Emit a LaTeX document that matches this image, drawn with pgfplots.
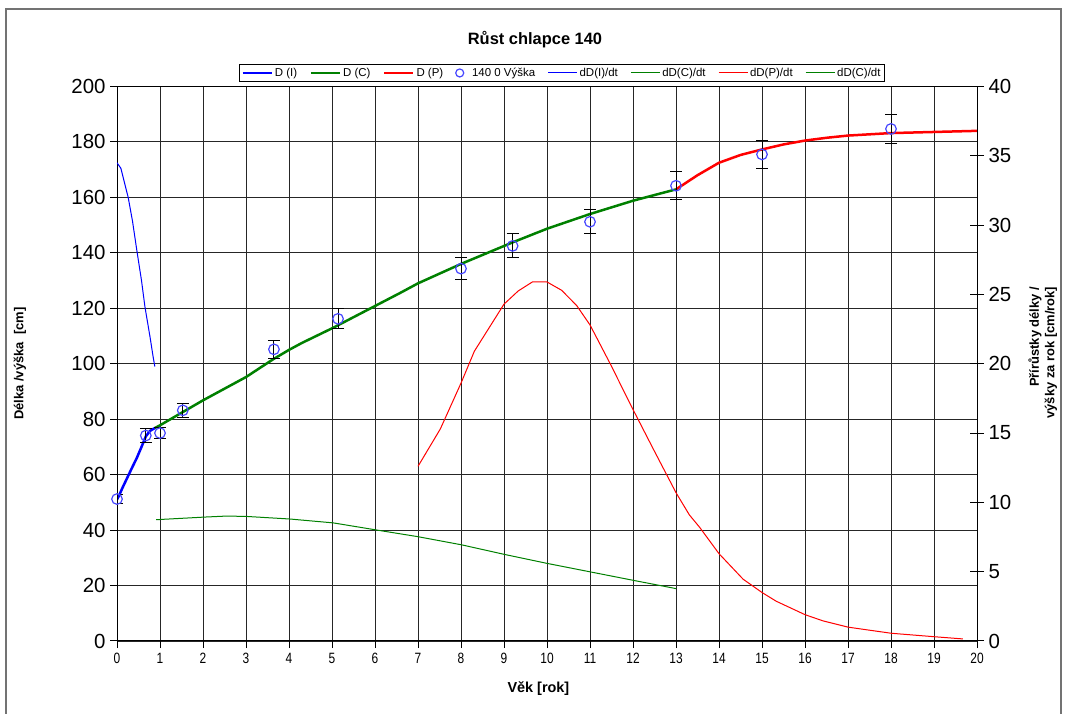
\documentclass[border=0pt]{standalone}
\usepackage{pgfplots}
\pgfplotsset{compat=1.18}
\usepackage{fontspec}
\setmainfont{Liberation Sans}
\definecolor{cblue}{RGB}{0,0,255}
\definecolor{cgreen}{RGB}{0,128,0}
\definecolor{cred}{RGB}{255,0,0}
\definecolor{ccirc}{RGB}{70,70,255}
\begin{document}
\begin{tikzpicture}
\useasboundingbox (0,0) rectangle (1066bp,714bp);
\draw[black!55, line width=2bp] (6bp,-10bp) -- (6bp,705bp) -- (1061bp,705bp) -- (1061bp,-10bp);
\node[font=\bfseries\fontsize{16.5}{18}\selectfont] at (535bp,674bp) {Růst chlapce 140};
\begin{axis}[
  at={(117bp,73bp)}, anchor=south west,
  scale only axis, width=860bp, height=554.5bp,
  xmin=0, xmax=20, ymin=0, ymax=200,
  xtick={0,1,...,20}, ytick={0,20,...,200},
  grid=major, major grid style={black!85, line width=0.9bp},
  axis line style={black, line width=1bp},
  tick style={black, line width=1bp},
  tick pos=left, tick align=outside, major tick length=7bp,
  /pgf/number format/assume math mode=true,
  yticklabel style={font=\fontsize{20.5}{21}\selectfont, xshift=-1bp},
  xticklabel style={font=\fontsize{15}{15}\selectfont, xscale=0.8, yshift=-2bp},
  xlabel={Věk [rok]},
  xlabel style={font=\bfseries\fontsize{14.5}{15}\selectfont, at={(axis description cs:0.49,-0.085)}, anchor=center},
  ylabel={Délka /výška\ \ [cm]},
  ylabel style={font=\bfseries\fontsize{13}{14}\selectfont, at={(axis description cs:-0.1128,0.5)}, anchor=center},
]
\addplot[cblue, line width=2.5bp] coordinates {(0,51) (0.05,52.5) (0.12,55) (0.23,58.6) (0.35,62.5) (0.46,66) (0.57,70) (0.67,73.8) (0.77,75.8) (0.88,76.8)};
\addplot[cgreen, line width=2.5bp] coordinates {(0.88,76.8) (1,77.8) (1.5,82.3) (2,86.8) (2.5,91) (3,95.2) (3.63,101.6) (4,105) (4.3,107.5) (5.03,113) (5.65,118) (6.58,125.5) (7,129) (8,136) (9.22,143.9) (10,148.7) (11,154) (12,158.8) (13,162.9)};
\addplot[cred, line width=2.5bp] coordinates {(13,162.9) (13.5,168) (14,172.5) (14.5,175.3) (15,177.3) (15.5,179.1) (16,180.5) (16.5,181.5) (17,182.3) (18,183.2) (19,183.6) (20,184)};
\addplot[only marks, mark=o, mark size=5.3bp, mark options={ccirc, line width=1.2bp},
  error bars/.cd, y dir=both, y explicit,
  error bar style={black, line width=1bp},
  error mark options={rotate=90, black, mark size=6bp, line width=1bp}]
  table[x=x, y=y, y error=e] {
x y e
0 51.2 1.5
0.67 74.1 2.4
1.0 75.0 2.1
1.53 83.2 2.5
3.65 105.2 3.2
5.14 116.2 3.6
8.0 134.3 4.0
9.2 142.5 4.3
11.0 151.2 4.3
13.0 164.2 5.0
15.0 175.5 5.2
18.0 184.7 5.3
};
\end{axis}
\begin{axis}[
  at={(117bp,73bp)}, anchor=south west,
  scale only axis, width=860bp, height=554.5bp,
  xmin=0, xmax=20, ymin=0, ymax=40,
  axis x line=none, axis y line*=right,
  ytick={0,5,...,40},
  axis line style={black, line width=1bp},
  tick style={black, line width=1bp},
  tick align=center, major tick length=14bp,
  /pgf/number format/assume math mode=true,
  yticklabel style={font=\fontsize{20.5}{21}\selectfont, xshift=1bp},
  ylabel={Přírůstky délky /\\výšky za rok [cm/rok]},
  ylabel style={font=\bfseries\fontsize{13}{15.5}\selectfont, align=right, at={(axis description cs:1.0765,0.52)}, anchor=center},
  legend columns=8,
  legend style={at={(axis description cs:0.5174,1.0244)}, anchor=center, draw=black, line width=1bp,
    font=\fontsize{11.5}{12}\selectfont, inner sep=1.5bp,
    /tikz/every even column/.append style={column sep=10.5bp}},
  legend image code/.code={\draw[mark repeat=2,mark phase=2,#1] plot coordinates {(0bp,0bp) (14.5bp,0bp) (29bp,0bp)};},
  legend entries={D (I), D (C), D (P), \ \ 140 0 Výška, dD(I)/dt, dD(C)/dt, dD(P)/dt, dD(C)/dt},
]
\addlegendimage{cblue, line width=2.5bp}
\addlegendimage{cgreen, line width=2.5bp}
\addlegendimage{cred, line width=2.5bp}
\addlegendimage{only marks, mark=o, mark size=4bp, mark options={ccirc, line width=1.2bp}}
\addplot[cblue, line width=1bp] coordinates {(0,34.5) (0.09,34.1) (0.26,32.0) (0.36,30.3) (0.46,28.2) (0.57,26) (0.65,24.1) (0.77,21.9) (0.84,20.5) (0.88,19.8)};
\addplot[cgreen, line width=1bp] coordinates {(0.91,8.75) (2.04,8.94) (2.53,9.01) (2.99,8.99) (4.02,8.8) (5.03,8.52) (6.05,8.0) (6.99,7.53) (8.01,6.94) (9.02,6.24) (10,5.6) (11,4.99) (12,4.38) (13,3.78)};
\addplot[cred, line width=1bp] coordinates {(7,12.6) (7.52,15.3) (8,18.6) (8.31,20.9) (9,24.3) (9.33,25.25) (9.66,25.9) (10,25.9) (10.34,25.3) (10.69,24.2) (11,22.8) (11.47,20.0) (12,16.7) (12.48,13.8) (13,10.7) (13.31,9.1) (13.55,8.2) (14,6.3) (14.56,4.46) (15,3.5) (15.33,2.87) (16,1.9) (16.42,1.45) (17,1.0) (18,0.56) (19,0.31) (19.67,0.15)};
\addlegendimage{cgreen, line width=1bp}
\end{axis}
\end{tikzpicture}
\end{document}
